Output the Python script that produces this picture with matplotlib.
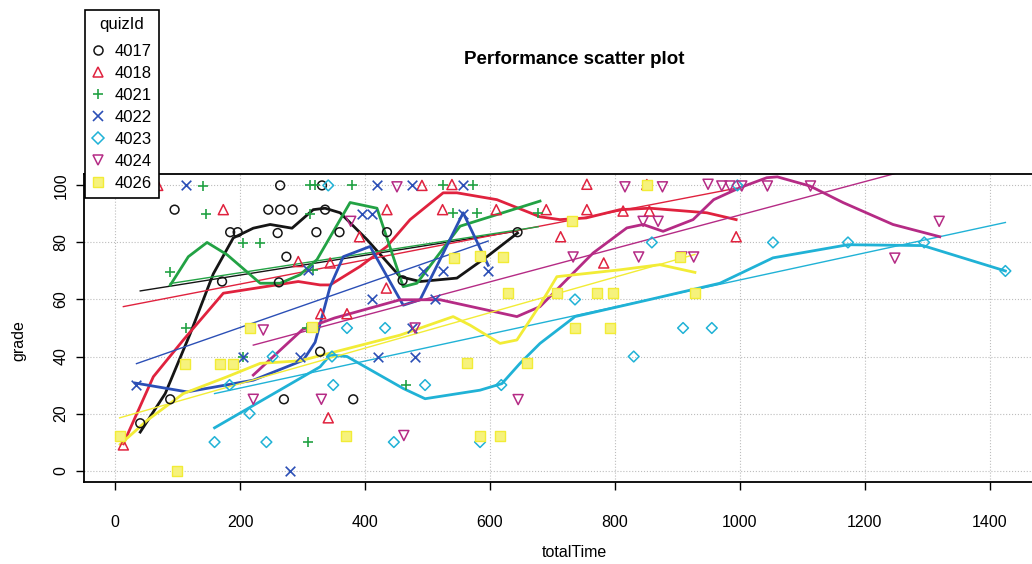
import numpy as np
import matplotlib
matplotlib.use('Agg')
import matplotlib.pyplot as plt
from matplotlib.lines import Line2D

plt.rcParams['font.family'] = ['Liberation Sans', 'DejaVu Sans']

# quiz 4017
t_4017 = [40, 88, 95, 171, 184, 196, 245, 260, 262, 264, 264, 270, 274, 284, 322,
          328, 331, 336, 359, 381, 435, 460, 644]
g_4017 = [16.6, 25, 91.5, 66.3, 83.6, 83.6, 91.5, 83.3, 66, 100, 91.5, 25, 75, 91.5, 83.6,
          41.7, 100, 91.5, 83.6, 25, 83.6, 66.7, 83.6]
fit_t_4017 = [40, 644]
fit_g_4017 = [63, 84]
sm_t_4017 = [40, 80, 120, 157, 189, 221, 248, 283, 317, 336, 360, 403, 456, 488, 547, 595, 644]
sm_g_4017 = [13.5, 27, 48, 69, 81.6, 85, 86.3, 85, 91.5, 92, 90.4, 81, 68, 66.3, 67.5, 75, 83.3]

# quiz 4018
t_4018 = [13, 68, 173, 293, 329, 341, 344, 371, 391, 434, 435, 491, 524, 539, 610, 690,
          713, 755, 755, 782, 813, 851, 855, 994]
g_4018 = [9, 100, 91.5, 73.3, 55, 18.5, 72.8, 55, 82, 64, 91.5, 100, 91.5, 100.3, 91.5, 91.5,
          82, 100.4, 91.5, 72.8, 91, 100.3, 91, 82]
fit_t_4018 = [13, 994]
fit_g_4018 = [57.5, 99]
sm_t_4018 = [13, 61, 109, 173, 293, 328, 344, 392, 435, 472, 525, 547, 611, 680, 712, 754,
             808, 856, 947, 994]
sm_g_4018 = [9.4, 32.9, 45.8, 62.2, 66.3, 65.1, 65.1, 71.6, 78.6, 88, 97.4, 97.4, 95, 89, 88, 88.6,
             91.5, 92, 90.4, 88]

# quiz 4021
t_4021 = [88, 114, 140, 145, 204, 205, 232, 307, 309, 312, 312, 317, 318, 320, 379, 466,
          525, 540, 573, 579, 677]
g_4021 = [69.8, 49.9, 99.8, 90, 79.8, 40, 79.8, 49.9, 10, 89.8, 100, 70.4, 50, 100, 100, 30,
          100, 90.4, 100, 90.4, 90.4]
fit_t_4021 = [88, 677]
fit_g_4021 = [65.6, 85.5]
sm_t_4021 = [88, 117, 147, 179, 232, 264, 296, 323, 376, 419, 461, 483, 552, 680]
sm_g_4021 = [65, 75, 80, 75.7, 65.7, 65.7, 68.7, 74, 94, 92, 64.5, 65.7, 85.7, 94.5]

# quiz 4022
t_4022 = [34, 114, 205, 280, 296, 309, 395, 411, 411, 419, 420, 475, 475, 480, 492, 512,
          524, 556, 556, 597]
g_4022 = [30, 100, 40, 0, 40, 70.4, 90, 90, 60, 100, 40, 100, 50, 40, 70, 60,
          70, 100, 90, 70]
fit_t_4022 = [34, 597]
fit_g_4022 = [37.5, 80.5]
sm_t_4022 = [32, 115, 221, 301, 320, 344, 365, 408, 461, 488, 520, 557, 597]
sm_g_4022 = [30.7, 27.6, 31.7, 38.7, 45, 64.5, 75, 78.6, 58, 59.9, 74, 90.4, 72]

# quiz 4023
t_4023 = [159, 183, 215, 242, 252, 341, 347, 349, 371, 432, 446, 496, 584, 618, 736, 830,
          859, 909, 955, 996, 1053, 1173, 1295, 1425]
g_4023 = [10, 30, 20, 10, 40, 100, 40, 30, 50, 50, 10, 30, 10, 30, 60, 40,
          80, 50, 50, 100, 80, 80, 80, 70]
fit_t_4023 = [159, 1425]
fit_g_4023 = [27, 87]
sm_t_4023 = [159, 328, 344, 371, 461, 496, 584, 619, 648, 680, 736, 856, 968, 1053, 1173, 1293, 1425]
sm_g_4023 = [15, 36.4, 40.5, 40, 28.8, 25.2, 28.2, 30.5, 37.6, 44.6, 54, 60, 65.7, 74.6, 79.2, 78.9, 70]

# quiz 4024
t_4024 = [221, 237, 330, 377, 451, 462, 480, 645, 733, 816, 838, 845, 869, 876, 907, 926,
          949, 971, 984, 1003, 1044, 1113, 1248, 1319]
g_4024 = [25, 49.3, 25, 87.4, 99.5, 12.3, 50, 24.9, 74.9, 99.5, 74.9, 87.4, 87.4, 99.5, 74.9, 74.9,
          100.4, 99.8, 99.8, 99.8, 99.8, 99.8, 74.5, 87.4]
fit_t_4024 = [221, 1319]
fit_g_4024 = [44, 108.3]
sm_t_4024 = [221, 300, 351, 456, 520, 643, 680, 765, 819, 845, 877, 925, 958, 1000, 1043, 1060,
             1112, 1165, 1245, 1320]
sm_g_4024 = [33.5, 49.5, 53.5, 59.9, 59.9, 54, 57.5, 76.3, 85.1, 86.3, 83.9, 88, 95, 99.2, 102.7, 103,
             99.8, 94, 86.3, 82]

# quiz 4026
t_4026 = [7, 99, 112, 168, 188, 216, 315, 369, 542, 563, 584, 584, 616, 621, 629, 659,
          707, 731, 736, 772, 792, 797, 851, 904, 928]
g_4026 = [12.3, 0, 37.3, 37.3, 37.3, 49.9, 50.5, 12.3, 74.5, 37.6, 12.3, 75.1, 12.3, 74.9, 62.4, 37.6,
          62.4, 87.4, 49.9, 62.4, 49.9, 62.4, 100.3, 74.9, 62.4]
fit_t_4026 = [7, 928]
fit_g_4026 = [18.5, 75.8]
sm_t_4026 = [8, 51, 109, 179, 232, 296, 456, 541, 568, 616, 643, 680, 707, 808, 872, 928]
sm_g_4026 = [9.2, 17.6, 27, 32.9, 37.6, 38.5, 47.5, 54, 51, 44.6, 45.8, 58.1, 68, 70.4, 72.2, 69.5]

quiz_ids = ['4017', '4018', '4021', '4022', '4023', '4024', '4026']
colors = ['#151515', '#E0223E', '#22A244', '#2B4FB6', '#20B2D6', '#B52B85', '#F2EC36']
markers = ['o', '^', '+', 'x', 'D', 'v', 's']

groups = [
    (t_4017, g_4017, fit_t_4017, fit_g_4017, sm_t_4017, sm_g_4017),
    (t_4018, g_4018, fit_t_4018, fit_g_4018, sm_t_4018, sm_g_4018),
    (t_4021, g_4021, fit_t_4021, fit_g_4021, sm_t_4021, sm_g_4021),
    (t_4022, g_4022, fit_t_4022, fit_g_4022, sm_t_4022, sm_g_4022),
    (t_4023, g_4023, fit_t_4023, fit_g_4023, sm_t_4023, sm_g_4023),
    (t_4024, g_4024, fit_t_4024, fit_g_4024, sm_t_4024, sm_g_4024),
    (t_4026, g_4026, fit_t_4026, fit_g_4026, sm_t_4026, sm_g_4026),
]

fig = plt.figure(figsize=(10.32, 5.64), dpi=100)
# plot box runs past the right edge of the page
ax = fig.add_axes([84 / 1032, 82 / 564, 957 / 1032, 308 / 564])

ax.set_xlim(-50, 1482)
ax.set_ylim(-4, 104)
ax.grid(True, linestyle=':', color='#BDBDBD', linewidth=0.8)
ax.set_axisbelow(True)

def marker_style(m, c):
    if m in ('+', 'x'):
        return dict(color=c, s=48, linewidths=1.2)
    if m == 's':
        return dict(facecolors='#F6F27C', edgecolors=c, s=42, linewidths=1.0)
    size = {'o': 40, '^': 52, 'v': 52, 'D': 30}[m]
    return dict(facecolors='none', edgecolors=c, s=size, linewidths=1.1)

for (t, g, ft, fg, st, sg), m, c in zip(groups, markers, colors):
    ax.scatter(t, g, marker=m, zorder=3, **marker_style(m, c))
    ax.plot(ft, fg, color=c, linewidth=1.0, zorder=2)
    ax.plot(st, sg, color=c, linewidth=2.0, zorder=2, solid_joinstyle='round')

ax.set_xticks(np.arange(0, 1401, 200))
ax.set_yticks(np.arange(0, 101, 20))
ax.tick_params(axis='both', direction='out', length=6, width=1, labelsize=11.5)
ax.tick_params(axis='x', pad=17.5)
ax.tick_params(axis='y', pad=5.3)
for lab in ax.get_yticklabels():
    lab.set_rotation(90)
    lab.set_va('center')
for sp in ax.spines.values():
    sp.set_linewidth(1.3)

ax.set_xlabel('totalTime', fontsize=11.5)
ax.xaxis.set_label_coords(0.512, -0.205)
ax.set_ylabel('grade', fontsize=11.5)
ax.yaxis.set_label_coords(-0.06, 0.46)
fig.text(574 / 1032, 1 - 60 / 564, 'Performance scatter plot', ha='center', va='center',
         fontsize=13.5, fontweight='bold')

handles = []
for m, c in zip(markers, colors):
    if m in ('+', 'x'):
        h = Line2D([], [], linestyle='none', marker=m, color=c, markersize=7, markeredgewidth=1.2)
    elif m == 's':
        h = Line2D([], [], linestyle='none', marker=m, markerfacecolor='#F6F27C',
                   markeredgecolor=c, markersize=6.5)
    else:
        h = Line2D([], [], linestyle='none', marker=m, markerfacecolor='none',
                   markeredgecolor=c, markersize=6.5, markeredgewidth=1.1)
    handles.append(h)

leg = fig.legend(handles, quiz_ids, title='quizId', loc='upper left',
                 bbox_to_anchor=(85 / 1032, 1 - 10 / 564), borderaxespad=0,
                 fontsize=12, title_fontsize=12, frameon=True, fancybox=False,
                 handlelength=0.8, handletextpad=0.6, labelspacing=0.42,
                 borderpad=0.4, framealpha=1)
leg._legend_box.sep = 9
leg.get_frame().set_edgecolor('black')
leg.get_frame().set_linewidth(1.2)

fig.savefig('out.png', dpi=100)
